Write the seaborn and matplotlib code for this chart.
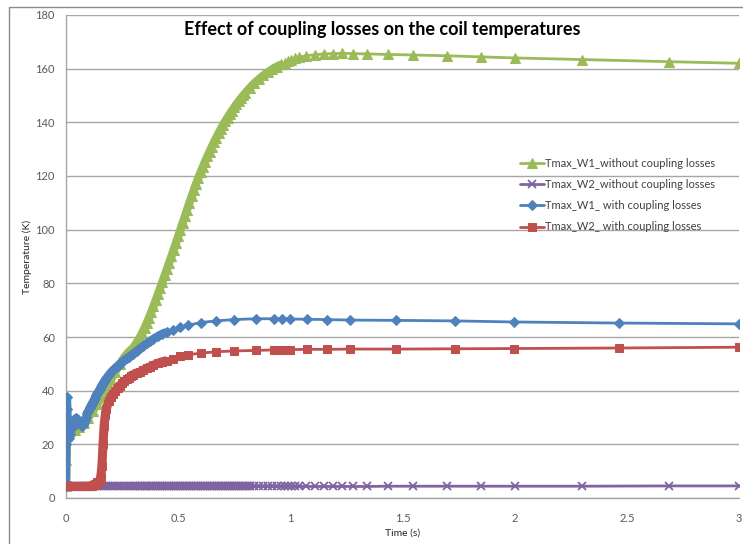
import matplotlib
matplotlib.use("Agg")
import matplotlib.pyplot as plt
import seaborn as sns
import pandas as pd
from matplotlib.patches import Rectangle

# ---------------- data ----------------
title = "Effect of coupling losses on the coil temperatures"
x_label = "Time (s)"
y_label = "Temperature (K)"
x_ticks = [0, 0.5, 1, 1.5, 2, 2.5, 3]
x_tick_labels = ["0", "0.5", "1", "1.5", "2", "2.5", "3"]
y_ticks = [0, 20, 40, 60, 80, 100, 120, 140, 160, 180]
series_names = ["Tmax_W1_without coupling losses",
                "Tmax_W2_without coupling losses",
                "Tmax_W1_ with coupling losses",
                "Tmax_W2_ with coupling losses"]

# time samples of the runs without coupling losses
t_without = [0.0, 0.002, 0.005, 0.01, 0.02, 0.04, 0.06, 0.08, 0.1, 0.12, 0.14, 0.16,
             0.18, 0.2, 0.22, 0.24, 0.26, 0.28, 0.3, 0.31, 0.32, 0.33, 0.34, 0.35,
             0.36, 0.37, 0.38, 0.39, 0.4, 0.41, 0.42, 0.43, 0.44, 0.45, 0.46, 0.47,
             0.48, 0.49, 0.5, 0.51, 0.52, 0.53, 0.54, 0.55, 0.56, 0.57, 0.58, 0.59,
             0.6, 0.61, 0.62, 0.63, 0.64, 0.65, 0.66, 0.67, 0.68, 0.69, 0.7, 0.71,
             0.72, 0.73, 0.74, 0.75, 0.76, 0.77, 0.78, 0.79, 0.8, 0.82, 0.84, 0.86,
             0.88, 0.9, 0.92, 0.94, 0.96, 0.975, 0.99, 1.005, 1.02, 1.04, 1.07, 1.11,
             1.15, 1.19, 1.23, 1.28, 1.34, 1.435, 1.547, 1.7, 1.85, 2.0, 2.3, 2.69, 3.0]

w1_without = [4.3, 14.0, 23.0, 24.5, 24.8, 25.5, 26.5, 28.0, 30.0, 32.5, 35.0, 38.0,
              41.0, 44.0, 47.0, 50.0, 52.5, 54.5, 56.0, 57.3, 58.6, 60.0, 61.6, 63.3,
              65.2, 67.2, 69.3, 71.5, 73.7, 76.0, 78.3, 80.6, 83.0, 85.3, 87.7, 90.1,
              92.5, 95.0, 97.5, 100.0, 102.5, 105.0, 107.5, 110.0, 112.4, 114.8, 117.1, 119.3,
              121.4, 123.4, 125.4, 127.3, 129.1, 130.9, 132.6, 134.3, 135.9, 137.5, 139.0, 140.4,
              141.8, 143.1, 144.4, 145.6, 146.8, 147.9, 149.0, 150.0, 151.0, 152.9, 154.6, 156.1,
              157.5, 158.7, 159.8, 160.8, 161.6, 162.2, 162.8, 163.3, 163.8, 164.3, 164.8, 165.2,
              165.5, 165.6, 165.7, 165.6, 165.5, 165.3, 165.1, 164.8, 164.4, 164.0, 163.4, 162.6, 162.0]

w2_without = [4.3, 4.3, 4.3, 4.3, 4.3, 4.3, 4.3, 4.3, 4.3, 4.3, 4.3, 4.3,
              4.3, 4.3, 4.3, 4.3, 4.3, 4.3, 4.3, 4.3, 4.3, 4.3, 4.3, 4.3,
              4.3, 4.3, 4.3, 4.3, 4.3, 4.3, 4.3, 4.3, 4.3, 4.3, 4.3, 4.3,
              4.3, 4.3, 4.3, 4.3, 4.3, 4.3, 4.3, 4.3, 4.3, 4.3, 4.3, 4.3,
              4.3, 4.3, 4.3, 4.3, 4.3, 4.3, 4.3, 4.3, 4.3, 4.3, 4.3, 4.3,
              4.3, 4.3, 4.3, 4.3, 4.3, 4.3, 4.3, 4.3, 4.3, 4.3, 4.3, 4.3,
              4.3, 4.3, 4.3, 4.3, 4.3, 4.3, 4.3, 4.3, 4.3, 4.3, 4.3, 4.3,
              4.3, 4.3, 4.3, 4.3, 4.3, 4.4, 4.4, 4.4, 4.4, 4.4, 4.4, 4.5, 4.5]

# time samples of the runs with coupling losses
t_with = [0.0, 0.002, 0.004, 0.006, 0.008, 0.01, 0.015, 0.02, 0.025, 0.03, 0.035, 0.04,
          0.045, 0.05, 0.055, 0.06, 0.065, 0.07, 0.075, 0.08, 0.085, 0.09, 0.095, 0.1,
          0.105, 0.11, 0.115, 0.12, 0.125, 0.13, 0.135, 0.14, 0.145, 0.15, 0.155, 0.16,
          0.165, 0.17, 0.175, 0.18, 0.19, 0.2, 0.21, 0.22, 0.23, 0.24, 0.25, 0.26,
          0.27, 0.28, 0.29, 0.3, 0.315, 0.33, 0.345, 0.36, 0.375, 0.39, 0.41, 0.43,
          0.45, 0.475, 0.508, 0.544, 0.602, 0.669, 0.749, 0.847, 0.927, 0.963, 0.999, 1.074,
          1.164, 1.266, 1.471, 1.734, 1.997, 2.465, 3.0]

w1_with = [4.3, 20.0, 37.5, 33.0, 27.0, 23.0, 22.5, 24.0, 26.0, 27.5, 28.5, 29.3,
           29.8, 29.5, 28.8, 28.0, 27.3, 27.0, 27.2, 28.0, 29.0, 30.2, 31.5, 32.5,
           33.5, 34.3, 35.0, 35.8, 36.6, 37.4, 38.2, 39.0, 39.8, 40.5, 41.3, 42.0,
           42.7, 43.4, 44.0, 44.6, 45.8, 46.8, 47.7, 48.5, 49.2, 50.0, 50.7, 51.4,
           52.0, 52.6, 53.2, 53.8, 54.8, 55.8, 56.7, 57.6, 58.5, 59.3, 60.3, 61.2,
           61.9, 62.7, 63.6, 64.4, 65.4, 66.0, 66.5, 66.8, 66.8, 66.8, 66.7, 66.6,
           66.5, 66.3, 66.2, 66.0, 65.6, 65.2, 64.9]

w2_with = [4.3, 4.3, 4.3, 4.3, 4.3, 4.3, 4.3, 4.3, 4.3, 4.3, 4.3, 4.3,
           4.3, 4.3, 4.3, 4.3, 4.3, 4.3, 4.3, 4.3, 4.3, 4.3, 4.3, 4.3,
           4.4, 4.5, 4.6, 4.7, 4.9, 5.1, 5.4, 5.8, 6.1, 6.5, 8.0, 12.0,
           20.0, 27.0, 31.0, 33.3, 36.0, 37.6, 38.9, 40.0, 41.0, 41.9, 42.7, 43.5,
           44.2, 44.8, 45.4, 46.0, 46.6, 47.0, 47.7, 48.3, 48.9, 49.5, 50.2, 50.8,
           51.2, 51.8, 52.8, 53.4, 54.0, 54.5, 54.8, 55.0, 55.2, 55.3, 55.3, 55.4,
           55.4, 55.5, 55.5, 55.6, 55.7, 55.9, 56.2]

# ---------------- style ----------------
sns.set_theme(style="white")
plt.rcParams["font.family"] = ["Lato", "DejaVu Sans"]

colors = ["#9BBB59", "#8064A2", "#4F81BD", "#C0504D"]
markers = ["^", "x", "D", "s"]
msizes = [6.5, 6, 4.6, 6]
# markers are so closely packed in these ranges that they merge into a band
dense_until = [0.97, 0.85, 0.46, 0.46]
band_width = [6.0, 6.0, 6.0, 6.5]

fig = plt.figure(figsize=(7.43, 5.44), dpi=100)
ax = fig.add_axes([66 / 743, 1 - 498 / 544, (739 - 66) / 743, (498 - 15) / 544])

# figure border
fig.patches.append(Rectangle((9 / 743, -0.05), 1.2, 1 - 7 / 544 + 0.05,
                             transform=fig.transFigure, fill=False,
                             edgecolor="#8c8c8c", linewidth=1.0, zorder=-10))

series = [(t_without, w1_without), (t_without, w2_without),
          (t_with, w1_with), (t_with, w2_with)]
for i, ((tt, vv), name) in enumerate(zip(series, series_names)):
    df = pd.DataFrame({"t": tt, "T": vv})
    dense = df[df["t"] <= dense_until[i]]
    # merged-marker band
    ax.plot(dense["t"], dense["T"], color=colors[i], linewidth=band_width[i],
            solid_capstyle="butt", solid_joinstyle="round", zorder=3 + i)
    mk = dict(marker=markers[i], markersize=msizes[i], color=colors[i],
              markerfacecolor=colors[i], markeredgecolor=colors[i],
              linewidth=2.0)
    if markers[i] == "x":
        mk["markeredgewidth"] = 1.3
    sns.lineplot(data=df, x="t", y="T", ax=ax, estimator=None, sort=False,
                 label=name, zorder=3 + i, **mk)

ax.set_xlim(0, 3)
ax.set_ylim(0, 180)
ax.set_xticks(x_ticks)
ax.set_xticklabels(x_tick_labels)
ax.set_yticks(y_ticks)
ax.yaxis.grid(True, color="#a6a6a6", linewidth=1.0)
ax.xaxis.grid(False)
for s in ["top", "right"]:
    ax.spines[s].set_visible(False)
for s in ["left", "bottom"]:
    ax.spines[s].set_color("#a6a6a6")
    ax.spines[s].set_linewidth(1.0)
ax.tick_params(axis="both", length=0, labelsize=8, labelcolor="#595959")
ax.tick_params(axis="y", pad=8)
ax.tick_params(axis="x", pad=11)
ax.set_xlabel(x_label, fontsize=7.5, color="#262626", labelpad=3)
ax.set_ylabel(y_label, fontsize=7.5, color="#262626")
ax.yaxis.set_label_coords((32 - 66) / 673, 0.5)

fig.text(382 / 743, 1 - 29 / 544, title, ha="center", va="center",
         fontsize=13, fontweight="bold", color="#000000")

leg = ax.legend(loc="upper left", bbox_to_anchor=(0.667, 0.716), frameon=False,
                fontsize=8, handlelength=2.1, handletextpad=0.1,
                labelspacing=0.92, borderpad=0, numpoints=1)
for txt in leg.get_texts():
    txt.set_color("#404040")

fig.savefig("out.png", dpi=100)
